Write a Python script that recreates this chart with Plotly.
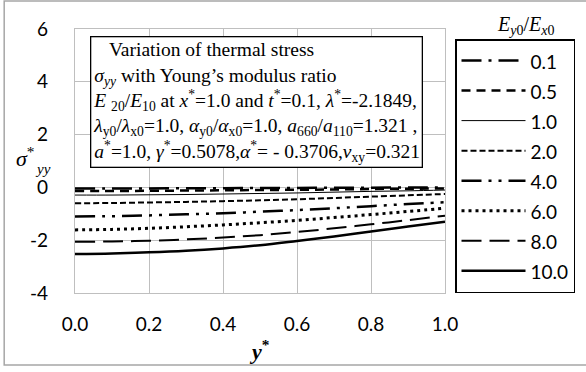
import plotly.graph_objects as go

y_star = [0.0, 0.1, 0.2, 0.3, 0.4, 0.5, 0.6, 0.7, 0.8, 0.9, 1.0]
ratio_labels = ["0.1", "0.5", "1.0", "2.0", "4.0", "6.0", "8.0", "10.0"]
s_01 = [-0.04, -0.04, -0.04, -0.03, -0.03, -0.02, -0.02, -0.01, -0.01, 0.0, 0.0]
s_05 = [-0.14, -0.14, -0.13, -0.12, -0.11, -0.10, -0.09, -0.08, -0.06, -0.05, -0.04]
s_10 = [-0.29, -0.29, -0.28, -0.27, -0.25, -0.23, -0.21, -0.18, -0.15, -0.13, -0.10]
s_20 = [-0.60, -0.59, -0.57, -0.55, -0.52, -0.49, -0.45, -0.40, -0.35, -0.30, -0.25]
s_40 = [-1.10, -1.09, -1.06, -1.02, -0.98, -0.92, -0.86, -0.79, -0.71, -0.63, -0.56]
s_60 = [-1.61, -1.59, -1.55, -1.49, -1.42, -1.34, -1.25, -1.14, -1.03, -0.91, -0.79]
s_80 = [-2.06, -2.05, -2.02, -1.97, -1.90, -1.81, -1.69, -1.55, -1.40, -1.24, -1.07]
s_100 = [-2.52, -2.50, -2.46, -2.40, -2.31, -2.19, -2.03, -1.86, -1.67, -1.48, -1.30]
series = [s_01, s_05, s_10, s_20, s_40, s_60, s_80, s_100]
x_ticks = [0.0, 0.2, 0.4, 0.6, 0.8, 1.0]
x_tick_text = ["0.0", "0.2", "0.4", "0.6", "0.8", "1.0"]
y_ticks = [-4, -2, 0, 2, 4, 6]
y_tick_text = ["-4", "-2", "0", "2", "4", "6"]

styles = [
    dict(dash="20px,7px,3px,7px", width=2.5),
    dict(dash="9px,6px", width=2.5),
    dict(dash="solid", width=1),
    dict(dash="6px,3px", width=2),
    dict(dash="20px,7px,3px,7px,3px,7px", width=2.5),
    dict(dash="3px,4px", width=3),
    dict(dash="20px,8px", width=2),
    dict(dash="solid", width=2.5),
]

W, H = 586, 372
L, R, T, B = 75, 140, 29, 79
pw, ph = W - L - R, H - T - B

def px(x):
    return (x - L) / pw

def py(y):
    return (H - B - y) / ph

fig = go.Figure()
for lab, ys, st in zip(ratio_labels, series, styles):
    fig.add_trace(go.Scatter(
        x=y_star, y=ys, mode="lines",
        name=f'<span style="font-size:19px">{lab}</span>',
        line=dict(color="black", width=st["width"], dash=st["dash"], shape="spline"),
    ))

tick_font = dict(family="Lato", size=19, color="black")
grid = "#bfbfbf"
fig.update_xaxes(range=[0, 1], tickvals=x_ticks, ticktext=x_tick_text,
                 showgrid=True, gridcolor=grid, gridwidth=1.3, zeroline=False,
                 showline=True, linecolor=grid, linewidth=1.3, mirror=True,
                 tickfont=tick_font, ticks="", ticklabelstandoff=14)
fig.update_yaxes(range=[-4, 6], tickvals=y_ticks, ticktext=y_tick_text,
                 showgrid=True, gridcolor=grid, gridwidth=1.3, zeroline=False,
                 showline=True, linecolor=grid, linewidth=1.3, mirror=True,
                 tickfont=tick_font, ticks="", ticklabelstandoff=22)

serif = "Liberation Serif"
box_text = (
    "&#160;&#160;&#160;Variation of thermal stress<br>"
    "<i>σ<sub>yy</sub></i> with Young’s modulus ratio<br>"
    "<i>E</i> <sub>20</sub>/<i>E</i><sub>10</sub> at <i>x</i><sup>*</sup>=1.0 and "
    "<i>t</i><sup>*</sup>=0.1, <i>λ</i><sup>*</sup>=-2.1849,<br>"
    "<i>λ</i><sub>y0</sub>/<i>λ</i><sub>x0</sub>=1.0, <i>α</i><sub>y0</sub>/<i>α</i><sub>x0</sub>=1.0, "
    "<i>a</i><sub>660</sub>/<i>a</i><sub>110</sub>=1.321 ,<br>"
    "<i>a</i><sup>*</sup>=1.0, <i>γ</i><sup>*</sup>=0.5078,<i>α</i><sup>*</sup>= - 0.3706,"
    "<i>ν</i><sub>xy</sub>=0.321"
)

annotations = [
    dict(text=box_text, xref="paper", yref="paper", x=px(90), y=py(36),
         xanchor="left", yanchor="top", align="left", showarrow=False,
         font=dict(family=serif, size=19.5, color="black"),
         bordercolor="black", borderwidth=1.3, borderpad=2, bgcolor="white"),
    dict(text="<i>E</i><sub><i>y</i>0</sub>/<i>E</i><sub><i>x</i>0</sub>",
         xref="paper", yref="paper", x=px(527), y=py(25),
         xanchor="center", yanchor="middle", showarrow=False,
         font=dict(family=serif, size=20, color="black")),
    dict(text="<i>σ</i><sup>*</sup>", xref="paper", yref="paper", x=px(14), y=py(157),
         xanchor="left", yanchor="middle", showarrow=False,
         font=dict(family=serif, size=22, color="black")),
    dict(text="<i>yy</i>", xref="paper", yref="paper", x=px(33), y=py(169),
         xanchor="left", yanchor="middle", showarrow=False,
         font=dict(family=serif, size=15, color="black")),
    dict(text="<b><i>y</i></b><sup><b>*</b></sup>", xref="paper", yref="paper",
         x=px(260), y=py(350), xanchor="center", yanchor="middle", showarrow=False,
         font=dict(family=serif, size=22, color="black")),
]

shapes = [
    dict(type="rect", xref="paper", yref="paper", x0=px(4), x1=px(600),
         y0=py(365), y1=py(1), line=dict(color="#a6a6a6", width=1.5),
         fillcolor="rgba(0,0,0,0)", layer="below"),
]

fig.update_layout(
    width=W, height=H, margin=dict(l=L, r=R, t=T, b=B),
    paper_bgcolor="white", plot_bgcolor="white",
    annotations=annotations, shapes=shapes,
    showlegend=True,
    legend=dict(x=px(455), y=0.0, xanchor="left", yanchor="bottom",
                bordercolor="black", borderwidth=1.5, bgcolor="white",
                font=dict(family="Lato", size=20.8, color="black"),
                itemwidth=64),
)

fig.write_html("out.html")
